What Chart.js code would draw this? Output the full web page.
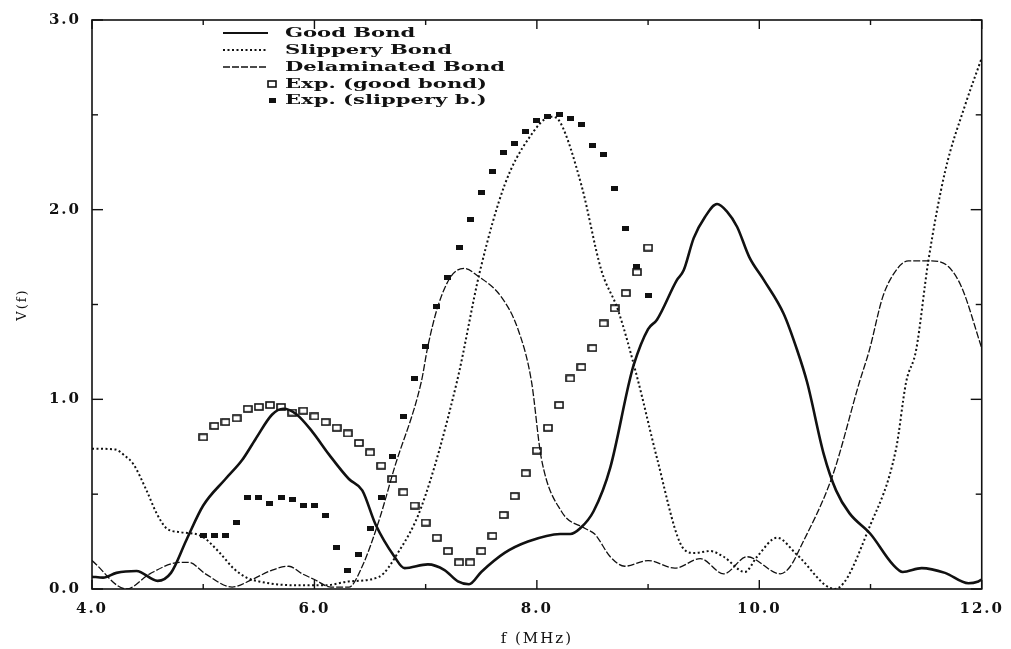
<!DOCTYPE html>
<html>
<head>
<meta charset="utf-8">
<title>V(f)</title>
<script src="https://cdn.jsdelivr.net/npm/chart.js@4.4.1/dist/chart.umd.min.js"></script>
<style>
  html, body { margin: 0; padding: 0; background: #fff; }
</style>
</head>
<body>
<canvas id="chart" width="1011" height="649"></canvas>
<script>
// --- data ---
const goodBondF = [4.0, 4.1, 4.22, 4.4, 4.59, 4.71, 4.85, 5.0, 5.2, 5.35, 5.47, 5.62, 5.72, 5.84, 5.98, 6.13, 6.31, 6.43, 6.55, 6.72, 6.81, 7.02, 7.17, 7.29, 7.39, 7.5, 7.71, 7.92, 8.21, 8.3, 8.39, 8.51, 8.66, 8.83, 8.87, 9.0, 9.08, 9.26, 9.32, 9.41, 9.51, 9.62, 9.71, 9.8, 9.91, 10.04, 10.22, 10.34, 10.43, 10.58, 10.69, 10.81, 11.0, 11.2, 11.29, 11.46, 11.67, 11.88, 11.97, 12.0];
const goodBondV = [0.065, 0.06, 0.085, 0.095, 0.043, 0.085, 0.26, 0.44, 0.58, 0.68, 0.79, 0.92, 0.95, 0.92, 0.83, 0.71, 0.58, 0.52, 0.34, 0.17, 0.11, 0.13, 0.10, 0.04, 0.025, 0.09, 0.19, 0.25, 0.29, 0.29, 0.32, 0.41, 0.64, 1.09, 1.18, 1.37, 1.42, 1.63, 1.68, 1.85, 1.96, 2.03, 1.99, 1.91, 1.75, 1.63, 1.45, 1.26, 1.09, 0.71, 0.52, 0.40, 0.29, 0.13, 0.09, 0.11, 0.085, 0.03, 0.04, 0.05];

const slipperyF = [4.0, 4.21, 4.3, 4.37, 4.49, 4.58, 4.67, 4.79, 4.98, 5.15, 5.27, 5.39, 5.5, 5.8, 6.1, 6.31, 6.58, 6.75, 6.96, 7.28, 7.49, 7.71, 7.92, 8.13, 8.21, 8.4, 8.58, 8.73, 8.9, 9.08, 9.29, 9.41, 9.56, 9.68, 9.87, 9.98, 10.16, 10.34, 10.68, 11.0, 11.23, 11.32, 11.41, 11.52, 11.67, 11.85, 12.0];
const slipperyV = [0.74, 0.735, 0.70, 0.66, 0.52, 0.40, 0.32, 0.30, 0.28, 0.19, 0.11, 0.06, 0.04, 0.02, 0.02, 0.04, 0.064, 0.19, 0.43, 1.09, 1.68, 2.13, 2.37, 2.49, 2.46, 2.13, 1.68, 1.47, 1.12, 0.69, 0.24, 0.19, 0.20, 0.17, 0.09, 0.17, 0.27, 0.18, 0.0, 0.34, 0.74, 1.09, 1.26, 1.73, 2.2, 2.55, 2.8];

const delamF = [4.0, 4.31, 4.52, 4.79, 4.87, 5.02, 5.26, 5.44, 5.62, 5.77, 5.89, 6.0, 6.15, 6.31, 6.43, 6.58, 6.72, 6.96, 7.02, 7.11, 7.23, 7.35, 7.47, 7.68, 7.83, 7.95, 8.04, 8.22, 8.43, 8.52, 8.66, 8.79, 9.0, 9.24, 9.47, 9.68, 9.89, 10.19, 10.28, 10.37, 10.66, 10.9, 10.99, 11.11, 11.23, 11.34, 11.55, 11.7, 11.82, 12.0];
const delamV = [0.15, 0.0, 0.08, 0.14, 0.14, 0.08, 0.01, 0.05, 0.10, 0.12, 0.08, 0.05, 0.01, 0.01, 0.12, 0.36, 0.64, 1.09, 1.28, 1.49, 1.65, 1.69, 1.65, 1.54, 1.37, 1.10, 0.69, 0.41, 0.32, 0.29, 0.17, 0.12, 0.15, 0.11, 0.16, 0.08, 0.17, 0.08, 0.12, 0.22, 0.6, 1.09, 1.26, 1.54, 1.68, 1.73, 1.73, 1.70, 1.59, 1.27];

const expF = [5.0, 5.1, 5.2, 5.3, 5.4, 5.5, 5.6, 5.7, 5.8, 5.9, 6.0, 6.1, 6.2, 6.3, 6.4, 6.5, 6.6, 6.7, 6.8, 6.9, 7.0, 7.1, 7.2, 7.3, 7.4, 7.5, 7.6, 7.7, 7.8, 7.9, 8.0, 8.1, 8.2, 8.3, 8.4, 8.5, 8.6, 8.7, 8.8, 8.9, 9.0];
const expGoodV = [0.80, 0.86, 0.88, 0.90, 0.95, 0.96, 0.97, 0.96, 0.93, 0.94, 0.91, 0.88, 0.85, 0.82, 0.77, 0.72, 0.65, 0.58, 0.51, 0.44, 0.35, 0.27, 0.20, 0.14, 0.14, 0.20, 0.28, 0.39, 0.49, 0.61, 0.73, 0.85, 0.97, 1.11, 1.17, 1.27, 1.40, 1.48, 1.56, 1.67, 1.80];
const expSlipV = [0.28, 0.28, 0.28, 0.35, 0.48, 0.48, 0.45, 0.48, 0.47, 0.44, 0.44, 0.39, 0.22, 0.10, 0.18, 0.32, 0.48, 0.70, 0.91, 1.11, 1.28, 1.49, 1.64, 1.80, 1.95, 2.09, 2.20, 2.30, 2.35, 2.41, 2.47, 2.49, 2.50, 2.48, 2.45, 2.34, 2.29, 2.11, 1.90, 1.70, 1.55];

const xTicks = [4, 6, 8, 10, 12];
const yTicks = [0, 1, 2, 3];
const xMinorTicks = [5, 7, 9, 11];
const yMinorTicks = [0.5, 1.5, 2.5];

const toPoints = (xs, ys) => xs.map((x, i) => ({ x: x, y: ys[i] }));

// small rectangle markers as in the scan
function makeMarker(filled) {
  const c = document.createElement('canvas');
  c.width = filled ? 7 : 10;
  c.height = filled ? 5 : 8;
  const g = c.getContext('2d');
  if (filled) {
    g.fillStyle = '#111';
    g.fillRect(0, 0, 7, 5);
  } else {
    g.strokeStyle = '#111';
    g.lineWidth = 1.6;
    g.strokeRect(1, 1, 8, 6);
  }
  return c;
}
const openBox = makeMarker(false);
const fullBox = makeMarker(true);

const serif = "'DejaVu Serif', 'Liberation Serif', serif";

// the scanned lettering is wide: space the axis text out a little
const spacingPlugin = {
  id: 'spacing',
  beforeDraw(chart) { chart.ctx.letterSpacing = '2px'; },
  beforeDatasetsDraw(chart) { chart.ctx.letterSpacing = '0px'; }
};

// frame with inward tick marks on all four sides
const framePlugin = {
  id: 'frame',
  afterDatasetsDraw(chart) {
    const { ctx, chartArea: a, scales } = chart;
    const x = scales.x, y = scales.y;
    ctx.save();
    ctx.strokeStyle = '#111';
    ctx.lineWidth = 1.6;
    ctx.strokeRect(a.left, a.top, a.right - a.left, a.bottom - a.top);
    ctx.lineWidth = 1.4;
    const seg = (x1, y1, x2, y2) => {
      ctx.beginPath(); ctx.moveTo(x1, y1); ctx.lineTo(x2, y2); ctx.stroke();
    };
    xTicks.concat(xMinorTicks).forEach(v => {
      const px = x.getPixelForValue(v);
      const len = xTicks.includes(v) ? 9 : 5;
      seg(px, a.bottom, px, a.bottom - len);
      seg(px, a.top, px, a.top + len);
    });
    yTicks.concat(yMinorTicks).forEach(v => {
      const py = y.getPixelForValue(v);
      const len = yTicks.includes(v) ? 11 : 6;
      seg(a.left, py, a.left + len, py);
      seg(a.right, py, a.right - len, py);
    });
    ctx.restore();
  }
};

// legend drawn inside the plot, top left, like the original
const legendPlugin = {
  id: 'boxLegend',
  afterDraw(chart) {
    const ctx = chart.ctx;
    const rows = [33, 50, 67, 84, 100];
    ctx.save();
    ctx.letterSpacing = '0px';
    ctx.font = 'bold 13px ' + serif;
    const stretch = 220 / ctx.measureText('Delaminated Bond').width;
    chart.data.datasets.forEach((ds, i) => {
      const yy = rows[i];
      if (ds.showLine) {
        ctx.strokeStyle = '#111';
        ctx.lineWidth = Math.min(ds.borderWidth, 2);
        ctx.setLineDash(ds.borderDash || []);
        ctx.beginPath(); ctx.moveTo(223, yy); ctx.lineTo(268, yy); ctx.stroke();
        ctx.setLineDash([]);
      } else {
        const img = ds.pointStyle;
        ctx.drawImage(img, 272 - img.width / 2, yy - img.height / 2);
      }
      ctx.save();
      ctx.translate(285, yy);
      ctx.scale(stretch, 1);
      ctx.fillStyle = '#111';
      ctx.textBaseline = 'middle';
      ctx.fillText(ds.label, 0, 1);
      ctx.restore();
    });
    ctx.restore();
  }
};

new Chart(document.getElementById('chart'), {
  type: 'scatter',
  data: {
    datasets: [
      {
        label: 'Good Bond',
        data: toPoints(goodBondF, goodBondV),
        showLine: true, borderColor: '#111', borderWidth: 2.6,
        pointRadius: 0, cubicInterpolationMode: 'monotone'
      },
      {
        label: 'Slippery Bond',
        data: toPoints(slipperyF, slipperyV),
        showLine: true, borderColor: '#111', borderWidth: 2, borderDash: [2, 2.5],
        pointRadius: 0, cubicInterpolationMode: 'monotone'
      },
      {
        label: 'Delaminated Bond',
        data: toPoints(delamF, delamV),
        showLine: true, borderColor: '#111', borderWidth: 1.3, borderDash: [7, 2],
        pointRadius: 0, cubicInterpolationMode: 'monotone'
      },
      {
        label: 'Exp. (good bond)',
        data: toPoints(expF, expGoodV),
        showLine: false, pointStyle: openBox, pointRadius: 4
      },
      {
        label: 'Exp. (slippery b.)',
        data: toPoints(expF, expSlipV),
        showLine: false, pointStyle: fullBox, pointRadius: 3
      }
    ]
  },
  options: {
    responsive: false,
    animation: false,
    layout: { padding: { top: 13, right: 25, left: 0, bottom: 0 } },
    plugins: {
      legend: { display: false },
      tooltip: { enabled: false }
    },
    scales: {
      x: {
        type: 'linear', min: 4, max: 12,
        afterBuildTicks: s => { s.ticks = xTicks.map(v => ({ value: v })); },
        afterFit: s => { s.height = 60; },
        grid: { display: false, drawTicks: false },
        border: { display: false },
        ticks: {
          padding: 11, color: '#111',
          font: { family: serif, weight: 'bold', size: 15 },
          callback: v => v.toFixed(1)
        },
        title: {
          display: true, text: 'f (MHz)', color: '#111',
          font: { family: serif, size: 15 },
          padding: { bottom: 1, top: 0 }
        }
      },
      y: {
        type: 'linear', min: 0, max: 3,
        afterBuildTicks: s => { s.ticks = yTicks.map(v => ({ value: v })); },
        afterFit: s => { s.width = 92; },
        grid: { display: false, drawTicks: false },
        border: { display: false },
        ticks: {
          padding: 11, color: '#111',
          font: { family: serif, weight: 'bold', size: 15 },
          callback: v => v.toFixed(1)
        },
        title: {
          display: true, text: 'V(f)', color: '#111',
          font: { family: serif, size: 13 },
          padding: { top: 15, bottom: 0 }
        }
      }
    }
  },
  plugins: [spacingPlugin, framePlugin, legendPlugin]
});
</script>
</body>
</html>
